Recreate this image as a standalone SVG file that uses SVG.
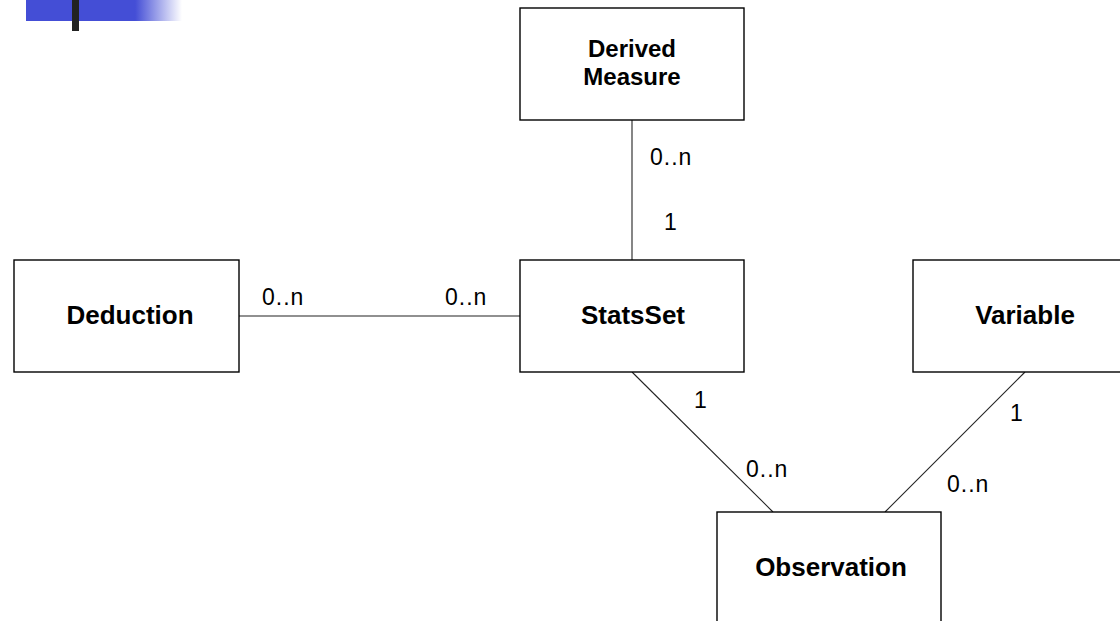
<svg xmlns="http://www.w3.org/2000/svg" width="1120" height="621" viewBox="0 0 1120 621">
<defs>
<linearGradient id="fade" x1="26" y1="0" x2="182" y2="0" gradientUnits="userSpaceOnUse">
<stop offset="0" stop-color="#444ed6"/>
<stop offset="0.7" stop-color="#444ed6"/>
<stop offset="1" stop-color="#ffffff"/>
</linearGradient>
<style>
.box{fill:#fff;stroke:#000;stroke-width:1.4}
.name{font-family:"Liberation Sans",Arial,sans-serif;font-weight:bold;font-size:26px;fill:#000;text-anchor:middle}
.small{font-size:24px}
.lbl{font-family:"Liberation Sans",Arial,sans-serif;font-size:23px;fill:#000;letter-spacing:1px}
.conn{stroke:#222;stroke-width:1.1;fill:none}
</style>
</defs>
<rect x="0" y="0" width="1120" height="621" fill="#fff"/>
<rect x="26" y="0" width="156" height="21" fill="url(#fade)"/>
<rect x="72" y="0" width="7" height="31" fill="#222"/>
<g id="connectors">
<line class="conn" x1="632" y1="120" x2="632" y2="260"/>
<line class="conn" x1="239" y1="316" x2="520" y2="316"/>
<line class="conn" x1="632" y1="372" x2="773" y2="512"/>
<line class="conn" x1="1025" y1="372" x2="885" y2="512"/>
<text class="lbl" x="650" y="165">0..n</text>
<text class="lbl" x="664" y="230">1</text>
<text class="lbl" x="262" y="305">0..n</text>
<text class="lbl" x="445" y="305">0..n</text>
<text class="lbl" x="694" y="408">1</text>
<text class="lbl" x="746" y="477">0..n</text>
<text class="lbl" x="1010" y="421">1</text>
<text class="lbl" x="947" y="492">0..n</text>
</g>
<g id="derived">
<rect class="box" x="520" y="8" width="224" height="112"/>
<text class="name small" x="632" y="57">Derived</text>
<text class="name small" x="632" y="85">Measure</text>
</g>
<g id="deduction">
<rect class="box" x="14" y="260" width="225" height="112"/>
<text class="name" x="130" y="324">Deduction</text>
</g>
<g id="statsset">
<rect class="box" x="520" y="260" width="224" height="112"/>
<text class="name" x="633" y="324">StatsSet</text>
</g>
<g id="variable">
<rect class="box" x="913" y="260" width="220" height="112"/>
<text class="name" x="1025" y="324">Variable</text>
</g>
<g id="observation">
<rect class="box" x="717" y="512" width="224" height="120"/>
<text class="name" x="831" y="576">Observation</text>
</g>
</svg>
